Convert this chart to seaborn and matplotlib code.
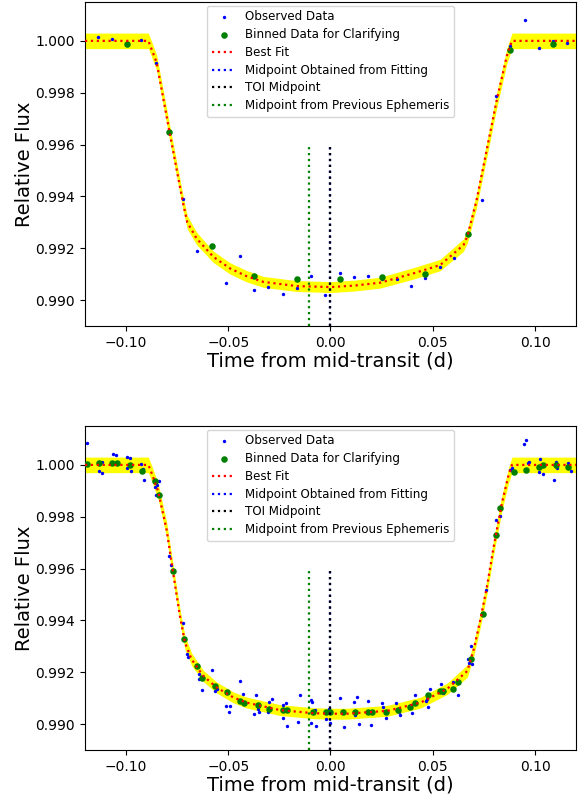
import matplotlib
matplotlib.use("Agg")
import matplotlib.pyplot as plt
import seaborn as sns
import numpy as np

# ---- top panel: observed points, binned points, best-fit model ----
t_obs_top = [-0.1136, -0.1067, -0.0997, -0.0928, -0.0853, -0.0790, -0.0720, -0.0651, -0.0581,
             -0.0512, -0.0442, -0.0374, -0.0304, -0.0233, -0.0163, -0.0095, -0.0025, 0.0046,
             0.0114, 0.0184, 0.0254, 0.0324, 0.0393, 0.0463, 0.0533, 0.0602, 0.0670, 0.0740,
             0.0809, 0.0879, 0.0949, 0.1017, 0.1088, 0.1156]
f_obs_top = [1.00013, 1.00007, 0.99985, 1.00004, 0.99913, 0.99647, 0.99391, 0.99190, 0.99205,
             0.99067, 0.99169, 0.99038, 0.99049, 0.99023, 0.99045, 0.99092, 0.99019, 0.99103,
             0.99088, 0.99091, 0.99080, 0.99082, 0.99055, 0.99086, 0.99127, 0.99163, 0.99253,
             0.99387, 0.99788, 0.99981, 1.00081, 0.99973, 1.00000, 0.99990]

t_bin_top = [-0.0997, -0.0790, -0.0581, -0.0374, -0.0163, 0.0046, 0.0254, 0.0463, 0.0670, 0.0879, 0.1088]
f_bin_top = [0.99987, 0.99647, 0.99209, 0.99092, 0.99082, 0.99082, 0.99087, 0.99101, 0.99253, 0.99964, 0.99987]

t_mod_top = [-0.120, -0.089, -0.085, -0.0785, -0.072, -0.070, -0.0654, -0.0573, -0.0491, -0.041,
             -0.0328, -0.0247, -0.0165, 0.0, 0.0120, 0.0243, 0.0406, 0.0536, 0.0650, 0.0670,
             0.0714, 0.0763, 0.0812, 0.0862, 0.0887, 0.120]
f_mod_top = [1.0, 1.0, 0.99917, 0.99641, 0.99372, 0.99300, 0.99237, 0.99167, 0.99122, 0.99092,
             0.99070, 0.99062, 0.99054, 0.99050, 0.99056, 0.99067, 0.99103, 0.99135, 0.99212, 0.99248,
             0.99385, 0.99577, 0.99769, 0.99942, 1.0, 1.0]
err_mod_top = [0.0003, 0.0003, 0.0003, 0.0003, 0.00028, 0.00026, 0.00024, 0.00022, 0.00022, 0.00022,
               0.00021, 0.00021, 0.00021, 0.00021, 0.00021, 0.00021, 0.00022, 0.00022, 0.00024, 0.00026,
               0.00028, 0.0003, 0.0003, 0.0003, 0.0003, 0.0003]

# ---- bottom panel ----
t_obs_bot = [-0.1192, -0.1136, -0.1116, -0.1132, -0.1119, -0.1062, -0.1050, -0.0997, -0.0980, -0.0997,
             -0.0977, -0.0927, -0.0915, -0.0912, -0.0863, -0.0850, -0.0839, -0.0858, -0.0847, -0.0852,
             -0.0834, -0.0790, -0.0781, -0.0723, -0.0700, -0.0695, -0.0643, -0.0630, -0.0643, -0.0630,
             -0.0581, -0.0565, -0.0556, -0.0512, -0.0491, -0.0496, -0.0442, -0.0426, -0.0366, -0.0356,
             -0.0349, -0.0374, -0.0287, -0.0299, -0.0304, -0.0217, -0.0230, -0.0233, -0.0211, -0.0159,
             -0.0149, -0.0095, -0.0088, -0.0077, -0.0095, -0.0072, -0.0005, -0.0023, -0.0003, 0.0046,
             0.0067, 0.0114, 0.0130, 0.0120, 0.0138, 0.0184, 0.0200, 0.0254, 0.0258, 0.0270,
             0.0322, 0.0333, 0.0338, 0.0399, 0.0393, 0.0414, 0.0465, 0.0472, 0.0479, 0.0484,
             0.0538, 0.0552, 0.0600, 0.0623, 0.0670, 0.0675, 0.0693, 0.0688, 0.0761, 0.0810,
             0.0827, 0.0879, 0.0887, 0.0900, 0.0947, 0.0956, 0.0963, 0.0971, 0.1017, 0.1022,
             0.1037, 0.1091, 0.1102, 0.1107, 0.1160, 0.1175]
f_obs_bot = [1.00083, 1.00013, 1.00013, 0.99978, 0.99970, 1.00041, 1.00038, 1.00030, 1.00026, 0.99987,
             0.99977, 1.00004, 0.99983, 0.99940, 0.99942, 0.99936, 0.99938, 0.99913, 0.99923, 0.99885,
             0.99885, 0.99647, 0.99615, 0.99391, 0.99269, 0.99260, 0.99192, 0.99180, 0.99173, 0.99132,
             0.99209, 0.99128, 0.99135, 0.99068, 0.99068, 0.99045, 0.99167, 0.99115, 0.99112, 0.99058,
             0.99047, 0.99038, 0.99096, 0.99086, 0.99047, 0.99083, 0.99074, 0.99023, 0.98993, 0.99009,
             0.99113, 0.99092, 0.99087, 0.99055, 0.99003, 0.98991, 0.99058, 0.99019, 0.99003, 0.99100,
             0.98987, 0.99087, 0.99105, 0.99035, 0.99000, 0.99090, 0.98996, 0.99080, 0.99064, 0.99024,
             0.99081, 0.99047, 0.99035, 0.99042, 0.99074, 0.99113, 0.99090, 0.99096, 0.99064, 0.99135,
             0.99154, 0.99118, 0.99163, 0.99113, 0.99253, 0.99237, 0.99233, 0.99301, 0.99517, 0.99788,
             0.99804, 0.99981, 0.99987, 0.99974, 1.00080, 1.00096, 1.00006, 1.00010, 0.99972, 1.00022,
             0.99964, 0.99940, 1.00010, 0.99987, 1.00006, 0.99978]

t_bin_bot = [-0.1192, -0.1132, -0.1067, -0.1045, -0.0980, -0.0923, -0.0858, -0.0839, -0.0772, -0.0715,
             -0.0651, -0.0630, -0.0565, -0.0504, -0.0442, -0.0421, -0.0356, -0.0299, -0.0233, -0.0214,
             -0.0087, -0.0021, 0.0000, 0.0062, 0.0120, 0.0184, 0.0205, 0.0270, 0.0329, 0.0391,
             0.0414, 0.0479, 0.0536, 0.0552, 0.0601, 0.0621, 0.0688, 0.0745, 0.0810, 0.0830,
             0.0895, 0.0954, 0.1017, 0.1038, 0.1102, 0.1160]
f_bin_bot = [1.00003, 1.00006, 1.00006, 1.00006, 1.00000, 0.99977, 0.99936, 0.99885, 0.99590, 0.99327,
             0.99224, 0.99176, 0.99147, 0.99124, 0.99090, 0.99081, 0.99074, 0.99058, 0.99055, 0.99055,
             0.99045, 0.99045, 0.99045, 0.99045, 0.99045, 0.99045, 0.99045, 0.99045, 0.99055, 0.99064,
             0.99081, 0.99113, 0.99126, 0.99126, 0.99135, 0.99163, 0.99253, 0.99426, 0.99728, 0.99833,
             0.99974, 0.99981, 0.99990, 1.00000, 1.00000, 0.99990]

t_mod_bot = [-0.120, -0.089, -0.0874, -0.0842, -0.0801, -0.0769, -0.0736, -0.0711, -0.0679, -0.0622,
             -0.0556, -0.0475, -0.041, -0.0247, -0.0084, 0.0, 0.008, 0.0278, 0.0441, 0.0572,
             0.0669, 0.0700, 0.0733, 0.0765, 0.0798, 0.0838, 0.0871, 0.0887, 0.120]
f_mod_bot = [1.0, 1.0, 0.99968, 0.99897, 0.99750, 0.99583, 0.99417, 0.99314, 0.99250, 0.99186,
             0.99141, 0.99103, 0.99083, 0.99054, 0.99042, 0.99040, 0.99040, 0.99051, 0.99083, 0.99137,
             0.99205, 0.99288, 0.99404, 0.99532, 0.99686, 0.99853, 0.99962, 1.0, 1.0]
err_mod_bot = [0.0003, 0.0003, 0.0003, 0.0003, 0.0003, 0.0003, 0.00028, 0.00026, 0.00024, 0.00022,
               0.00021, 0.00021, 0.00021, 0.00021, 0.00021, 0.00021, 0.00021, 0.00021, 0.00021, 0.00022,
               0.00024, 0.00026, 0.00028, 0.0003, 0.0003, 0.0003, 0.0003, 0.0003, 0.0003]

# midpoints
mid_fit = 0.0
mid_toi = 0.0
mid_prev = -0.0103

panels = [
    (t_obs_top, f_obs_top, t_bin_top, f_bin_top, t_mod_top, f_mod_top, err_mod_top),
    (t_obs_bot, f_obs_bot, t_bin_bot, f_bin_bot, t_mod_bot, f_mod_bot, err_mod_bot),
]

fig = plt.figure(figsize=(5.84, 7.96), dpi=100)
ax_top = fig.add_axes([0.1455, 0.5905, 0.8408, 0.407])
ax_bot = fig.add_axes([0.1455, 0.0578, 0.8408, 0.407])

for ax, (t_obs, f_obs, t_bin, f_bin, t_mod, f_mod, err_mod) in zip([ax_top, ax_bot], panels):
    f_mod_arr = np.array(f_mod)
    err_arr = np.array(err_mod)
    ax.fill_between(t_mod, f_mod_arr - err_arr, f_mod_arr + err_arr, color='yellow', lw=0, zorder=1)

    sns.scatterplot(x=t_obs, y=f_obs, ax=ax, color='blue', s=6, linewidth=0,
                    label='Observed Data', zorder=2)
    sns.scatterplot(x=t_bin, y=f_bin, ax=ax, color='green', s=22, linewidth=0,
                    label='Binned Data for Clarifying', zorder=3)
    sns.lineplot(x=t_mod, y=f_mod, ax=ax, color='red', linestyle=':', linewidth=1.6,
                 estimator=None, sort=False, label='Best Fit', zorder=4)

    ax.plot([mid_fit, mid_fit], [0.989, 0.996], color='blue', ls=':', lw=1.6,
            label='Midpoint Obtained from Fitting', zorder=5)
    ax.plot([mid_toi, mid_toi], [0.989, 0.996], color='black', ls=':', lw=1.6,
            label='TOI Midpoint', zorder=6)
    ax.plot([mid_prev, mid_prev], [0.989, 0.996], color='green', ls=':', lw=1.6,
            label='Midpoint from Previous Ephemeris', zorder=6)

    ax.set_xlim(-0.12, 0.12)
    ax.set_ylim(0.989, 1.0015)
    ax.set_xticks([-0.10, -0.05, 0.0, 0.05, 0.10])
    ax.set_yticks([0.990, 0.992, 0.994, 0.996, 0.998, 1.000])
    ax.set_xlabel("Time from mid-transit (d)", fontsize=14, labelpad=1.5)
    ax.set_ylabel("Relative Flux", fontsize=14, labelpad=1)
    ax.legend(loc='upper center', fontsize=8.6, labelspacing=0.4, borderaxespad=0.3)

fig.savefig("out.png", dpi=100)
